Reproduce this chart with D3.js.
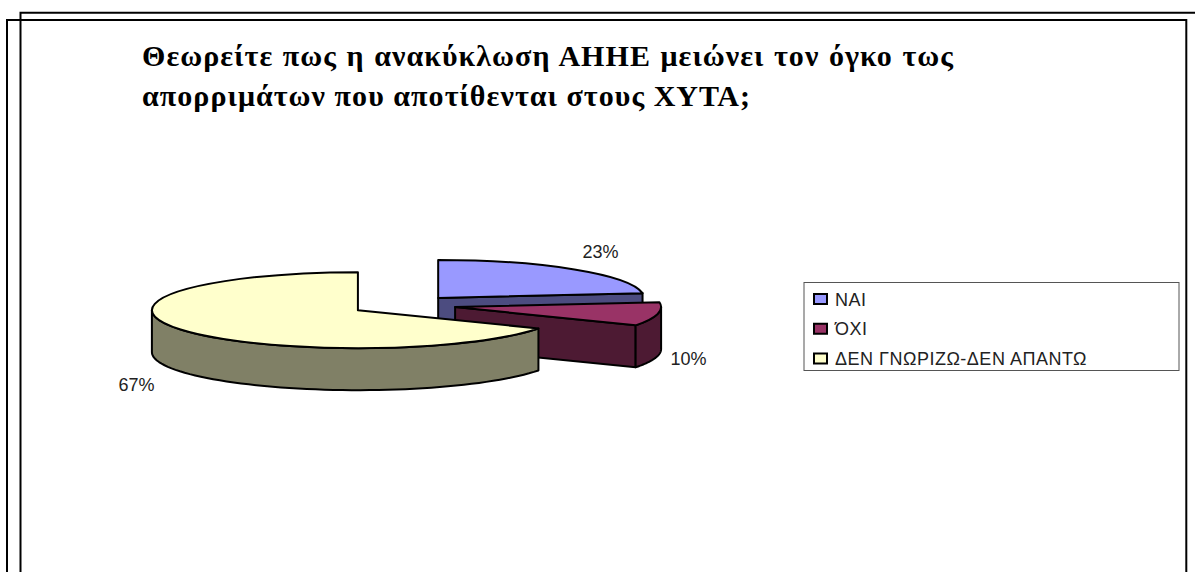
<!DOCTYPE html>
<html>
<head>
<meta charset="utf-8">
<script src="https://d3js.org/d3.v7.min.js"></script>
<style>
html, body { margin: 0; padding: 0; background: #fff; }
svg { display: block; }
</style>
</head>
<body>
<div id="chart"></div>
<script>
var categories = ["ΝΑΙ", "ΌΧΙ", "ΔΕΝ ΓΝΩΡΙΖΩ-ΔΕΝ ΑΠΑΝΤΩ"];
var values = [23, 10, 67];
var titleLines = [
    "Θεωρείτε πως η ανακύκλωση ΑΗΗΕ μειώνει τον όγκο τως",
    "απορριμάτων που αποτίθενται στους ΧΥΤΑ;"
];
var topColors = ["#9999ff", "#993366", "#ffffcc"];
var sideColors = ["#4c4c80", "#4d1a33", "#808066"];

var width = 1195;
var height = 572;
var cx = 403.3, cy = 305.2;      // centre of the pie before exploding
var rx = 206, ry = 38, depth = 42;
var squash = ry / rx;
var explode = 0.256;
var labelNudge = [[26, -11], [31, 51], [-44, 62]];

var svg = d3.select("#chart").append("svg")
    .attr("width", width)
    .attr("height", height);

// page frames
var frames = [
    "M20.5,572V12.7H1195",
    "M7,572V20H1186.3V572"
];
svg.selectAll("path.frame").data(frames).enter().append("path")
    .attr("class", "frame")
    .attr("d", function (d) { return d; })
    .attr("fill", "none")
    .attr("stroke", "#000")
    .attr("stroke-width", 2);

// title
svg.selectAll("text.title").data(titleLines).enter().append("text")
    .attr("class", "title")
    .attr("x", 142)
    .attr("y", function (d, i) { return 65.7 + i * 40; })
    .attr("font-family", "Liberation Serif")
    .attr("font-weight", "bold")
    .attr("font-size", 30)
    .attr("letter-spacing", 1.05)
    .attr("word-spacing", function (d, i) { return i == 0 ? 1 : 0; })
    .text(function (d) { return d; });

var pie = d3.pie().sort(null).value(function (d) { return d; });
var slices = pie(values);
var arc = d3.arc().innerRadius(0).outerRadius(rx);
var total = d3.sum(values);

// point on the rim (or apex for r = 0), in page coordinates
function offset(s) {
    var mid = (s.startAngle + s.endAngle) / 2;
    return [cx + explode * rx * Math.sin(mid), cy - explode * ry * Math.cos(mid)];
}
function rim(s, a, r) {
    var o = offset(s);
    return [o[0] + r * Math.sin(a), o[1] - r * squash * Math.cos(a)];
}

var line = d3.line();
var g = svg.append("g");
var pieStroke = 2;

slices.forEach(function (s, i) {
    var o = offset(s);
    var a0 = s.startAngle, a1 = s.endAngle;

    // cut face at the end angle, seen when it faces the viewer
    if (a1 < Math.PI * 2 - 0.001) {
        var p = rim(s, a1, rx), q = rim(s, a1, 0);
        g.append("path")
            .attr("d", line([q, p, [p[0], p[1] + depth], [q[0], q[1] + depth]]) + "Z")
            .attr("fill", sideColors[i])
            .attr("stroke", "#000")
            .attr("stroke-width", pieStroke)
            .attr("stroke-linejoin", "round");
    }

    // outer wall, front half of the rim only
    var w0 = Math.max(a0, Math.PI / 2), w1 = Math.min(a1, Math.PI * 1.5);
    if (w1 > w0) {
        var upper = d3.range(0, 61).map(function (k) {
            return rim(s, w0 + (w1 - w0) * k / 60, rx);
        });
        var lower = upper.map(function (p) { return [p[0], p[1] + depth]; }).reverse();
        g.append("path")
            .attr("d", line(upper.concat(lower)) + "Z")
            .attr("fill", sideColors[i])
            .attr("stroke", "#000")
            .attr("stroke-width", pieStroke)
            .attr("stroke-linejoin", "round");
    }

    // top face
    g.append("path")
        .attr("d", arc(s))
        .attr("transform", "translate(" + o[0] + "," + o[1] + ") scale(1," + squash + ")")
        .attr("vector-effect", "non-scaling-stroke")
        .attr("fill", topColors[i])
        .attr("stroke", "#000")
        .attr("stroke-width", pieStroke)
        .attr("stroke-linejoin", "round");
});

// percentage labels
svg.selectAll("text.pct").data(slices).enter().append("text")
    .attr("class", "pct")
    .attr("x", function (d, i) { return rim(d, (d.startAngle + d.endAngle) / 2, rx)[0] + labelNudge[i][0]; })
    .attr("y", function (d, i) { return rim(d, (d.startAngle + d.endAngle) / 2, rx)[1] + labelNudge[i][1]; })
    .attr("text-anchor", "middle")
    .attr("font-family", "Liberation Sans")
    .attr("font-size", 18)
    .attr("fill", "#222")
    .text(function (d) { return Math.round(d.value / total * 100) + "%"; });

// legend
var legendX = 804, legendY = 282.5;
var legendRow = d3.scalePoint().domain(categories).range([299, 358.5]);
svg.append("rect")
    .attr("x", legendX)
    .attr("y", legendY)
    .attr("width", 375)
    .attr("height", 88)
    .attr("fill", "#fff")
    .attr("stroke", "#555")
    .attr("stroke-width", 1);
var item = svg.selectAll("g.item").data(categories).enter().append("g")
    .attr("class", "item")
    .attr("transform", function (d) { return "translate(814," + legendRow(d) + ")"; });
item.append("rect")
    .attr("x", 0)
    .attr("y", -5)
    .attr("width", 13)
    .attr("height", 10)
    .attr("fill", function (d, i) { return topColors[i]; })
    .attr("stroke", "#000")
    .attr("stroke-width", 2);
item.append("text")
    .attr("x", 21)
    .attr("y", 6.5)
    .attr("font-family", "Liberation Sans")
    .attr("font-size", 18)
    .attr("letter-spacing", 0.5)
    .attr("fill", "#222")
    .text(function (d) { return d; });
</script>
</body>
</html>
